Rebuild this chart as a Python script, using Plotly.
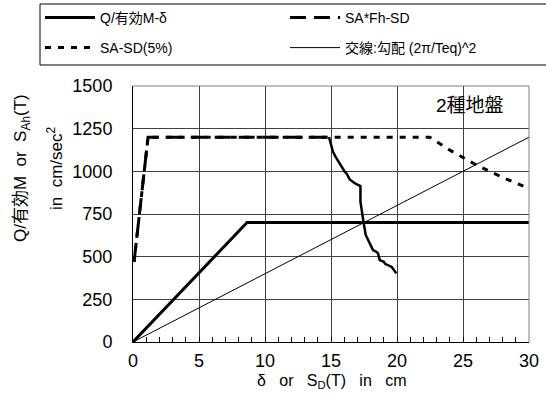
import plotly.graph_objects as go

# ---- data ----
q_x = [0, 8.64, 30]
q_y = [0, 700, 700]

sa_fh_x = [0.08, 0.4, 0.8, 1.14, 14.85]
sa_fh_y = [470, 700, 980, 1200, 1200]
# tail of SA*Fh-SD (dense, jagged)
sa_fh_tail_x = [14.85, 15.0, 15.15, 15.35, 15.53, 15.8, 16.04, 16.2, 16.42, 16.8, 17.23, 17.23, 17.35, 17.48, 17.63, 17.8, 18.06, 18.18, 18.4, 18.56, 18.69, 19.0, 19.1, 19.32, 19.6, 19.95]
sa_fh_tail_y = [1200, 1150, 1115, 1085, 1060, 1030, 998, 985, 952, 930, 914, 822, 744, 695, 627, 600, 568, 539, 530, 520, 480, 470, 458, 451, 440, 402]

sa_x = [0.08, 0.4, 0.8, 1.14, 22.48, 24, 26, 28, 30]
sa_y = [470, 700, 980, 1200, 1200, 1124, 1038, 964, 899]

cross_x = [0, 30]
cross_y = [0, 1200]

FONT = "Liberation Sans, Arial, Noto Sans CJK JP, sans-serif"

fig = go.Figure()
fig.add_trace(go.Scatter(x=q_x, y=q_y, mode="lines", name="Q/有効M-δ",
                         line=dict(color="black", width=3), legend="legend"))
fig.add_trace(go.Scatter(x=sa_fh_x, y=sa_fh_y, mode="lines", name="SA*Fh-SD",
                         line=dict(color="black", width=3, dash="16px,8px"), legend="legend2"))
fig.add_trace(go.Scatter(x=sa_fh_tail_x, y=sa_fh_tail_y, mode="lines", showlegend=False,
                         line=dict(color="black", width=2.5)))
fig.add_trace(go.Scatter(x=sa_x, y=sa_y, mode="lines", name="SA-SD(5%)",
                         line=dict(color="black", width=3, dash="6px,7px"), legend="legend3"))
fig.add_trace(go.Scatter(x=cross_x, y=cross_y, mode="lines", name="交線:勾配 (2π/Teq)^2",
                         line=dict(color="black", width=1), legend="legend4"))

def leg(xpx, ypx):
    return dict(orientation="h", xref="container", yref="container",
                x=xpx / 546, y=1 - ypx / 407,
                xanchor="left", yanchor="middle",
                itemwidth=50, bgcolor="rgba(0,0,0,0)", borderwidth=0,
                font=dict(family=FONT, size=14, color="black"),
                itemclick=False, itemdoubleclick=False)

fig.update_layout(
    template="none",
    width=546, height=407,
    margin=dict(l=133, r=17, t=86, b=65, autoexpand=False),
    plot_bgcolor="white", paper_bgcolor="white",
    font=dict(family=FONT, size=17, color="black"),
    showlegend=True,
    legend=leg(40, 18),
    legend2=leg(285, 18),
    legend3=leg(40, 48),
    legend4=leg(285, 48),
    xaxis=dict(range=[0, 30], tick0=0, dtick=5,
               showgrid=True, gridcolor="#404040", gridwidth=1,
               showline=True, linecolor="black", linewidth=1, mirror=False,
               ticks="inside", ticklen=5, tickcolor="black",
               minor=dict(dtick=1, ticks="inside", ticklen=5, tickcolor="black"),
               tickfont=dict(size=18), ticklabelstandoff=2, zeroline=False,
               fixedrange=True, automargin=False),
    yaxis=dict(range=[0, 1500], tick0=0, dtick=250,
               showgrid=True, gridcolor="#404040", gridwidth=1,
               showline=True, linecolor="black", linewidth=1,
               ticks="", tickfont=dict(size=18), ticklabelstandoff=16,
               zeroline=False, fixedrange=True, automargin=False),
    shapes=[
        dict(type="line", xref="paper", yref="paper", x0=0, x1=1, y0=1, y1=1,
             line=dict(color="#808080", width=1)),
        dict(type="line", xref="paper", yref="paper", x0=1, x1=1, y0=0, y1=1,
             line=dict(color="#808080", width=1)),
        dict(type="rect", xref="paper", yref="paper",
             x0=(40 - 133) / 396, x1=(560 - 133) / 396,
             y0=(342 - 65) / 256, y1=(342 - 4) / 256,
             line=dict(color="black", width=1), fillcolor="rgba(0,0,0,0)"),
    ],
    annotations=[
        dict(text="2種地盤", xref="paper", yref="paper", x=(470 - 133) / 396, y=(342 - 105) / 256,
             showarrow=False, xanchor="center", yanchor="middle",
             font=dict(size=19, family=FONT)),
        dict(text="δ\u00a0\u00a0\u00a0or\u00a0\u00a0\u00a0S<sub>D</sub>(T)\u00a0\u00a0\u00a0in\u00a0\u00a0\u00a0cm",
             xref="paper", yref="paper", x=0.5, y=(342 - 381) / 256,
             showarrow=False, xanchor="center", yanchor="middle",
             font=dict(size=16, family=FONT)),
        dict(text="Q/有効M\u00a0\u00a0or\u00a0\u00a0S<sub>Ah</sub>(T)",
             xref="paper", yref="paper", x=(22 - 133) / 396, y=(342 - 168) / 256,
             showarrow=False, xanchor="center", yanchor="middle", textangle=-90,
             font=dict(size=17, family=FONT)),
        dict(text="in\u00a0\u00a0cm/sec<sup>2</sup>",
             xref="paper", yref="paper", x=(55 - 133) / 396, y=(342 - 168) / 256,
             showarrow=False, xanchor="center", yanchor="middle", textangle=-90,
             font=dict(size=17, family=FONT)),
    ],
)

fig.write_html("out.html", config={"displayModeBar": False},
               post_script="document.body.style.margin='0';document.body.style.padding='0';")
